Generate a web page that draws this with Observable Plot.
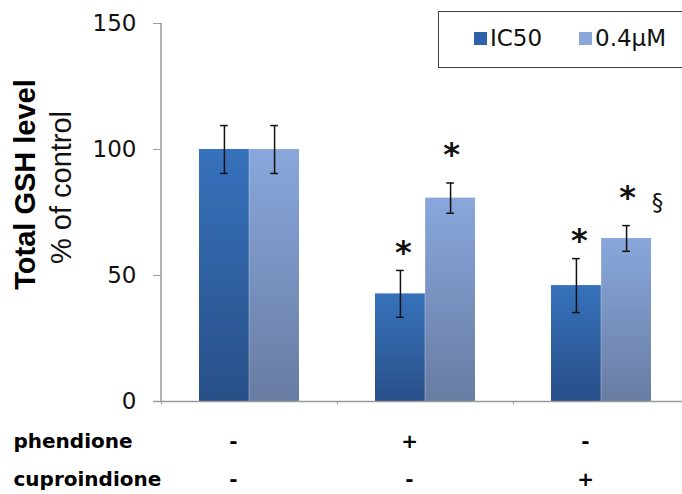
<!DOCTYPE html>
<html>
<head>
<meta charset="utf-8">
<script src="https://cdn.jsdelivr.net/npm/d3@7"></script>
<script src="https://cdn.jsdelivr.net/npm/@observablehq/plot@0.6"></script>
<style>
  body { margin: 0; background: #fff; }
  #wrap { position: relative; width: 682px; height: 494px; overflow: hidden; background: #fff; }
  #legend { position: absolute; left: 438px; top: 11px; width: 270px; height: 57px; box-sizing: border-box;
            border: 1px solid #404040; background: #fff; font-family: "DejaVu Sans", sans-serif; font-size: 23px; color: #111; }
  #legend .item { position: absolute; top: 12px; white-space: nowrap; line-height: 28px; }
  #legend .sw { display: inline-block; width: 13px; height: 13px; margin-right: 3px; vertical-align: 1px; }
</style>
</head>
<body>
<div id="wrap"></div>
<script>
// ---- data ----
const groups = ["control", "phendione", "cuproindione"];
const seriesNames = ["IC50", "0.4µM"];
const ic50Mean = [100, 42.7, 46.0];
const ic50Err  = [9.5, 9.3, 10.7];
const lowMean  = [100, 80.7, 64.7];
const lowErr   = [9.5, 6.0, 5.1];
const ic50Sig  = ["", "*", "*"];
const lowSig   = ["", "*", "*"];
const lowSig2  = ["", "", "§"];
const rowNames = ["phendione", "cuproindione"];
const phendioneRow    = ["-", "+", "-"];
const cuproindioneRow = ["-", "-", "+"];
const yTicks = [0, 50, 100, 150];
const seriesColors = ["#2f62a6", "#8aa6d8"];

// ---- tables built from the arrays ----
const ic50Rows = groups.map((g, i) => ({group: g, mean: ic50Mean[i], err: ic50Err[i], sig: ic50Sig[i]}));
const lowRows  = groups.map((g, i) => ({group: g, mean: lowMean[i], err: lowErr[i], sig: lowSig[i], sig2: lowSig2[i]}));
const tableRows = groups.map((g, i) => ({group: g, p: phendioneRow[i], c: cuproindioneRow[i]}));

const xRange = [161, 689];
const padInner = 0.43;
const step = (xRange[1] - xRange[0]) / groups.length;
const bw = step * (1 - padInner);

const defsMark = () => {
  const ns = "http://www.w3.org/2000/svg";
  const defs = document.createElementNS(ns, "defs");
  defs.innerHTML =
    '<linearGradient id="gIC50" x1="0" y1="0" x2="0" y2="1">' +
      '<stop offset="0" stop-color="#3672bc"/><stop offset="1" stop-color="#284f88"/></linearGradient>' +
    '<linearGradient id="gLow" x1="0" y1="0" x2="0" y2="1">' +
      '<stop offset="0" stop-color="#89a7dc"/><stop offset="1" stop-color="#687ca2"/></linearGradient>';
  return defs;
};

const yAxisLine = (index, scales, values, dimensions) => {
  const ns = "http://www.w3.org/2000/svg";
  const line = document.createElementNS(ns, "line");
  const x = dimensions.marginLeft;
  line.setAttribute("x1", x); line.setAttribute("x2", x);
  line.setAttribute("y1", scales.y(yTicks[0])); line.setAttribute("y2", scales.y(yTicks[yTicks.length - 1]));
  line.setAttribute("stroke", "#9a9a9a"); line.setAttribute("stroke-width", "1.5");
  return line;
};

const chart = Plot.plot({
  width: 682,
  height: 494,
  marginTop: 23,
  marginBottom: 93,
  marginLeft: 161,
  marginRight: 0,
  style: {fontFamily: "DejaVu Sans", background: "transparent"},
  x: {domain: groups, range: xRange, paddingInner: padInner, paddingOuter: padInner / 2, axis: null},
  y: {domain: [0, 150], axis: null},
  marks: [
    defsMark,
    Plot.barY(ic50Rows, {x: "group", y: "mean", fill: "url(#gIC50)", insetRight: bw / 2}),
    Plot.barY(lowRows, {x: "group", y: "mean", fill: "url(#gLow)", insetLeft: bw / 2}),
    Plot.ruleY([0], {stroke: "#9a9a9a", strokeWidth: 1.5, insetLeft: -8}),
    // small category-boundary ticks under the baseline
    Plot.ruleX(groups, {x: d => d, y1: 0, y2: -1.3, dx: -step / 2, stroke: "#9a9a9a", strokeWidth: 1}),
    yAxisLine,
    Plot.axisY({ticks: yTicks, tickSize: 8, tickPadding: 17, stroke: "#9a9a9a", fill: "#111", fontSize: 23, label: null}),
    // error bars
    Plot.ruleX(ic50Rows, {x: "group", y1: d => d.mean - d.err, y2: d => d.mean + d.err, dx: -bw / 4, stroke: "#111", strokeWidth: 1.5}),
    Plot.ruleX(lowRows, {x: "group", y1: d => d.mean - d.err, y2: d => d.mean + d.err, dx: bw / 4, stroke: "#111", strokeWidth: 1.5}),
    Plot.tickY(ic50Rows, {x: "group", y: d => d.mean + d.err, insetLeft: bw / 4 - 4, insetRight: bw * 3 / 4 - 4, stroke: "#111", strokeWidth: 1.5}),
    Plot.tickY(ic50Rows, {x: "group", y: d => d.mean - d.err, insetLeft: bw / 4 - 4, insetRight: bw * 3 / 4 - 4, stroke: "#111", strokeWidth: 1.5}),
    Plot.tickY(lowRows, {x: "group", y: d => d.mean + d.err, insetLeft: bw * 3 / 4 - 4, insetRight: bw / 4 - 4, stroke: "#111", strokeWidth: 1.5}),
    Plot.tickY(lowRows, {x: "group", y: d => d.mean - d.err, insetLeft: bw * 3 / 4 - 4, insetRight: bw / 4 - 4, stroke: "#111", strokeWidth: 1.5}),
    // significance marks
    Plot.text(ic50Rows, {x: "group", y: d => d.mean + d.err, text: "sig", dx: -bw / 4 + 3, dy: -18, fontSize: 32, fontWeight: "bold", fill: "#111"}),
    Plot.text(lowRows, {x: "group", y: d => d.mean + d.err, text: "sig", dx: bw / 4 + 1, dy: -28, fontSize: 32, fontWeight: "bold", fill: "#111"}),
    Plot.text(lowRows, {x: "group", y: d => d.mean + d.err, text: "sig2", dx: bw / 4 + 31, dy: -23, fontSize: 23, fill: "#111"}),
    // y labels
    Plot.text(["Total GSH level"], {frameAnchor: "left", text: d => d, rotate: -90, textAnchor: "middle", lineAnchor: "middle", dx: -136, dy: -28, fontSize: 29, fontWeight: "bold", fontFamily: "Liberation Sans", fill: "#000"}),
    Plot.text(["% of control"], {frameAnchor: "left", text: d => d, rotate: -90, textAnchor: "middle", lineAnchor: "middle", dx: -100, dy: -25, fontSize: 29, fontFamily: "Liberation Sans", fill: "#111"}),
    // treatment table below the axis
    Plot.text([rowNames[0]], {frameAnchor: "bottom-left", text: d => d, textAnchor: "start", dx: -148, dy: 46, fontSize: 20, fontWeight: "bold", fill: "#000"}),
    Plot.text([rowNames[1]], {frameAnchor: "bottom-left", text: d => d, textAnchor: "start", dx: -148, dy: 84, fontSize: 20, fontWeight: "bold", fill: "#000"}),
    Plot.text(tableRows, {x: "group", frameAnchor: "bottom", text: "p", dx: -16, dy: 46, fontSize: 20, fontWeight: "bold", fill: "#000"}),
    Plot.text(tableRows, {x: "group", frameAnchor: "bottom", text: "c", dx: -16, dy: 84, fontSize: 20, fontWeight: "bold", fill: "#000"})
  ]
});

const wrap = document.getElementById("wrap");
wrap.appendChild(chart);

// legend
const legend = document.createElement("div");
legend.id = "legend";
const lefts = [35, 140];
seriesNames.forEach((name, i) => {
  const item = document.createElement("div");
  item.className = "item";
  item.style.left = lefts[i] + "px";
  const sw = document.createElement("span");
  sw.className = "sw";
  sw.style.background = seriesColors[i];
  item.appendChild(sw);
  item.appendChild(document.createTextNode(name));
  legend.appendChild(item);
});
wrap.appendChild(legend);
</script>
</body>
</html>
